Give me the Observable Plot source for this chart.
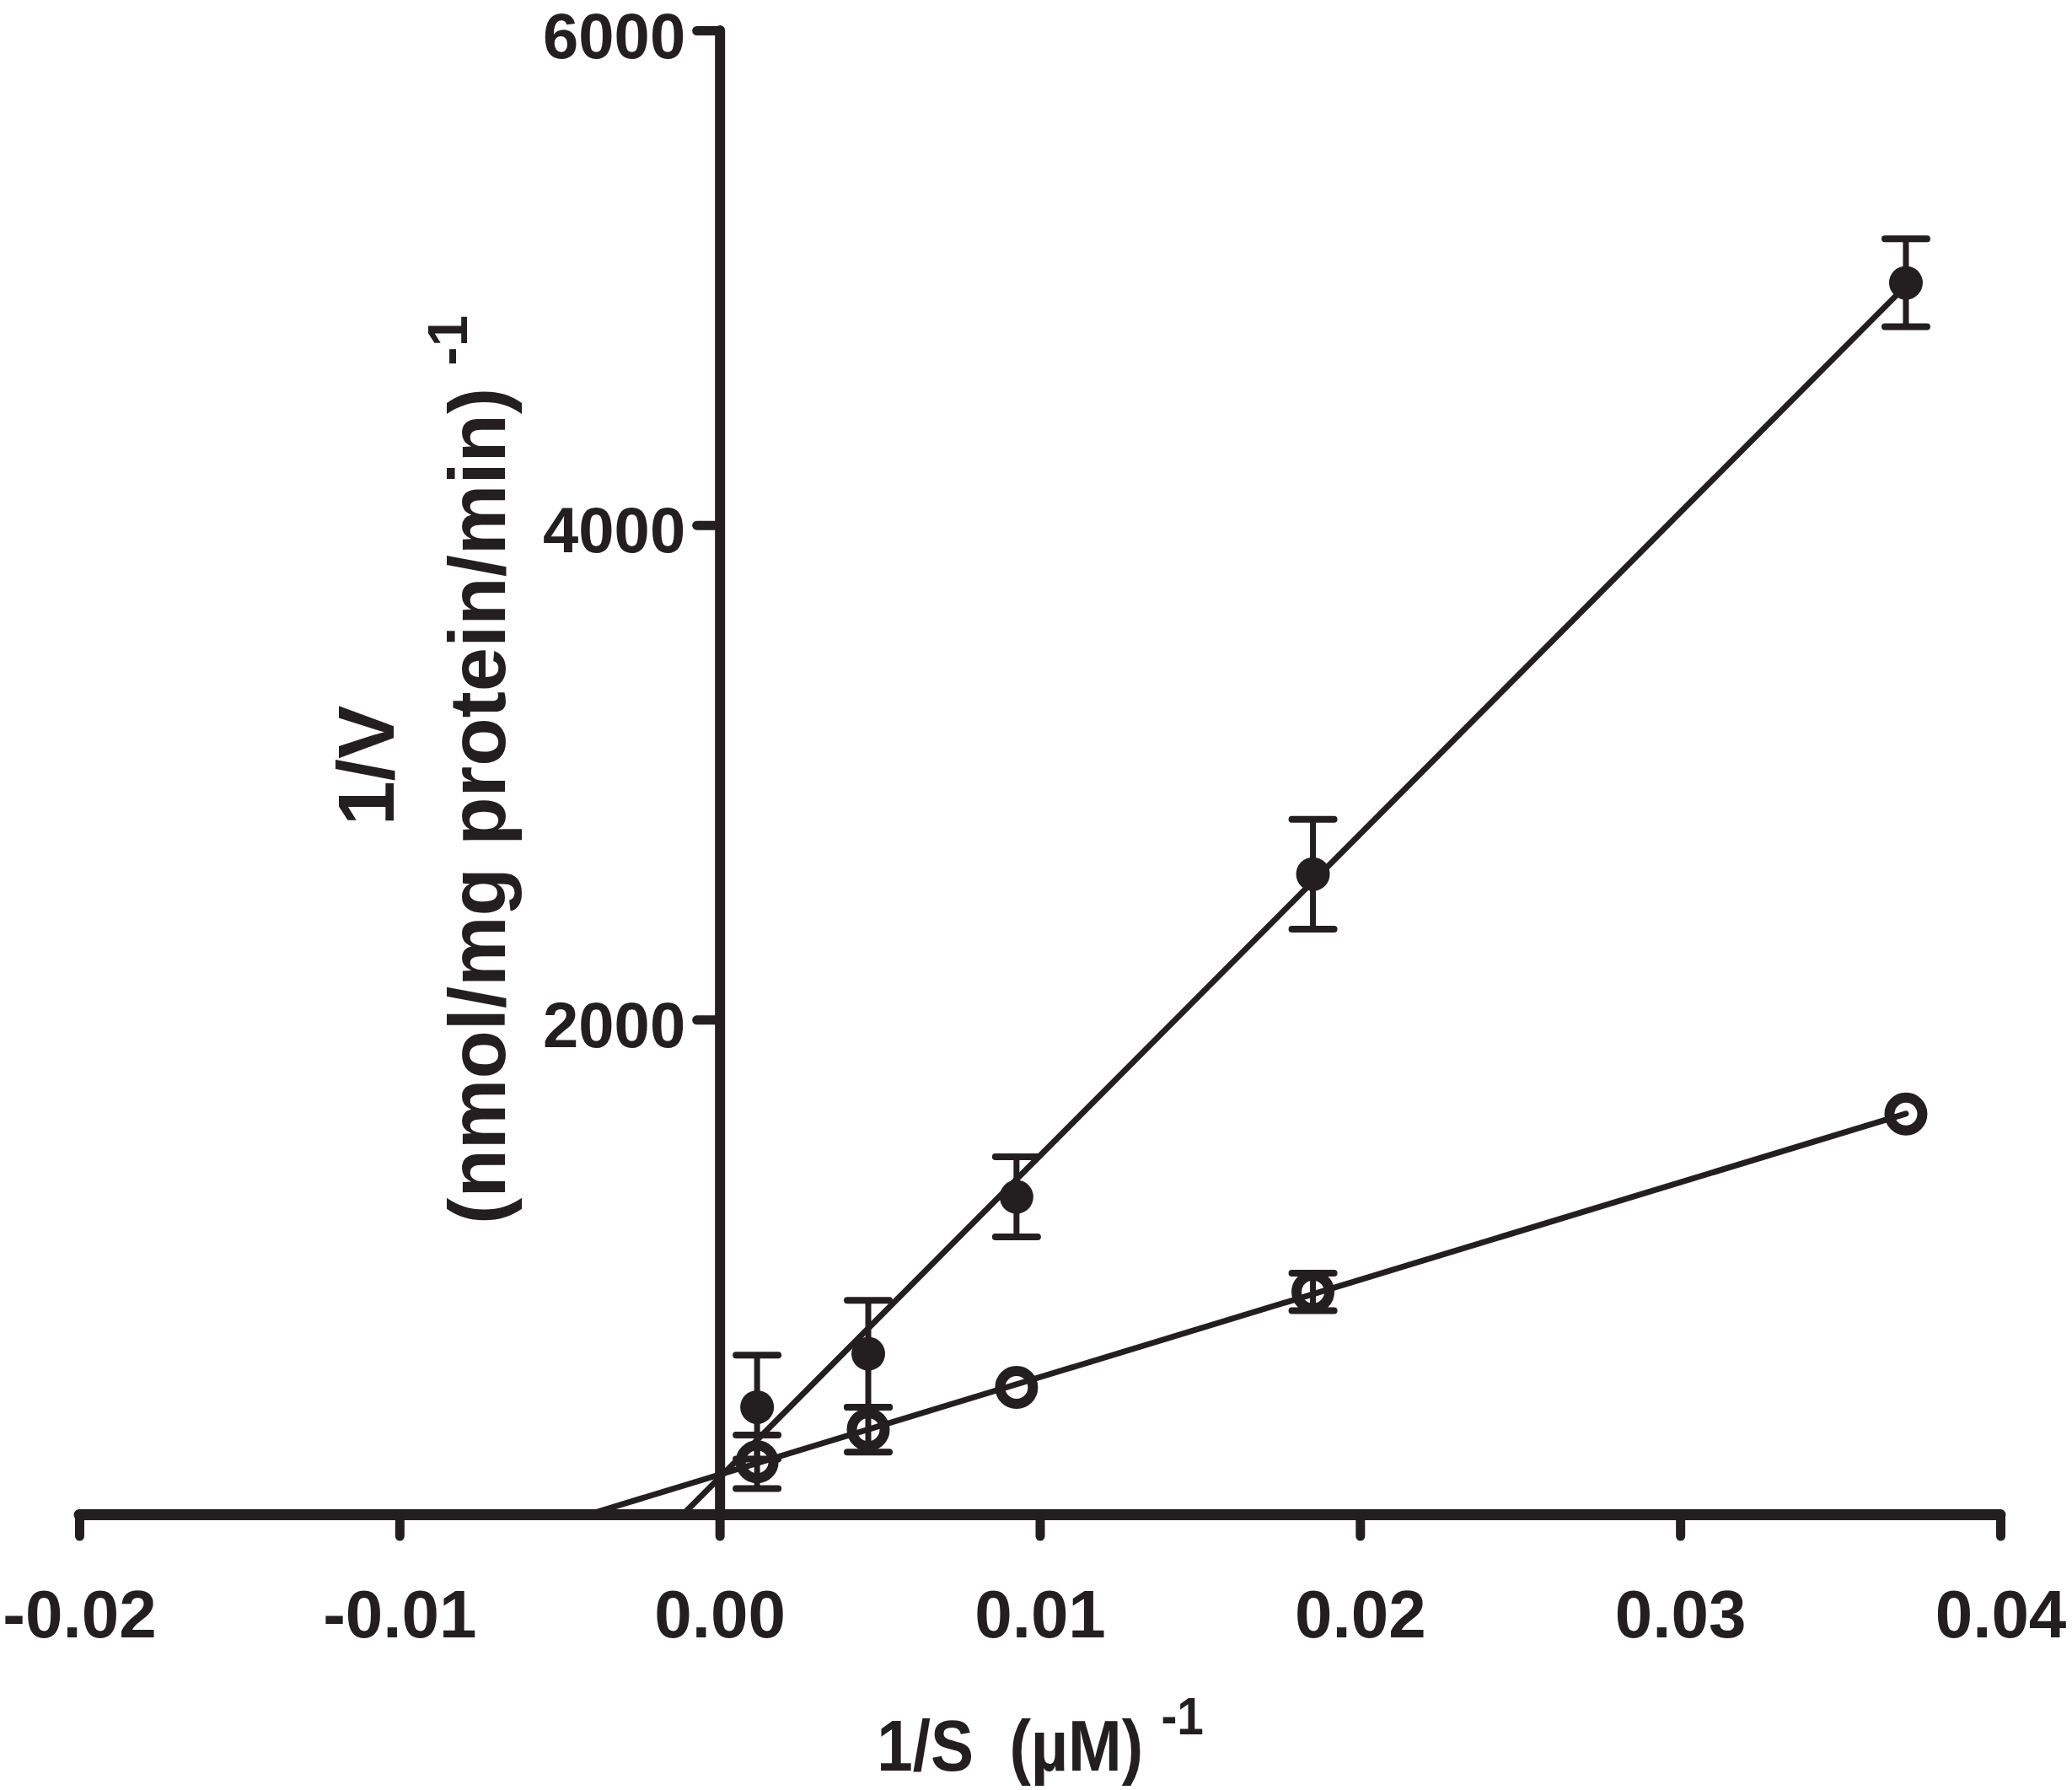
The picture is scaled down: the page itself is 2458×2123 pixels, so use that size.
<!DOCTYPE html>
<html><head><meta charset="utf-8">
<script src="https://cdn.jsdelivr.net/npm/d3@7"></script>
<script src="https://cdn.jsdelivr.net/npm/@observablehq/plot@0.6"></script>
<style>html,body{margin:0;padding:0;background:#fff;} svg{display:block}</style>
</head><body><div id="chart"></div>
<script>
// ---- data ----
const invS = [1/864, 1/216, 1/108, 1/54, 1/27];          // 1/S (µM)^-1
const filledV = [435, 651, 1285, 2590, 4981];            // 1/V, filled circles
const filledSEM = [210, 216, 162, 222, 178];
const openV = [214, 344, 515, 901, 1620];                // 1/V, open circles
const openSEM = [108, 91, null, 76, null];
const xTicks = [-0.02, -0.01, 0, 0.01, 0.02, 0.03, 0.04];
const yTicks = [2000, 4000, 6000];
const xDomain = [-0.02, 0.04];
const yDomain = [0, 6000];
const xTitle = "1/S  (µM)";
const yTitle1 = "1/V";
const yTitle2 = "(nmol/mg protein/min)";
const superscript = "-1";

const ink = "#231f20";
const W = 2458, H = 2123, ML = 94, MR = 85, MT = 36, MB = 327;
const font = "'Liberation Sans', Arial, Helvetica, sans-serif";

const filled = invS.map((x, i) => ({x, y: filledV[i], sem: filledSEM[i]}));
const open = invS.map((x, i) => ({x, y: openV[i], sem: openSEM[i]}));

function fitLine(rows) {
  const mx = d3.mean(rows, d => d.x), my = d3.mean(rows, d => d.y);
  let sxy = 0, sxx = 0;
  for (const d of rows) { sxy += (d.x - mx) * (d.y - my); sxx += (d.x - mx) ** 2; }
  const m = sxy / sxx, b = my - m * mx;
  const xEnd = d3.max(rows, d => d.x);
  return [{x: -b / m, y: 0}, {x: xEnd, y: m * xEnd + b}];
}

const xPerPx = (xDomain[1] - xDomain[0]) / (W - ML - MR);
const yTickLen = 27 * xPerPx;

const capSymbol = {
  draw(ctx, size) { const w = Math.sqrt(size / Math.PI); ctx.moveTo(-w, 0); ctx.lineTo(w, 0); }
};

const bars = [...filled, ...open].filter(d => d.sem != null);

const chart = Plot.plot({
  width: W, height: H,
  marginLeft: ML, marginRight: MR, marginTop: MT, marginBottom: MB,
  style: {fontFamily: font, background: "white", color: ink},
  x: {domain: xDomain},
  y: {domain: yDomain, axis: null},
  marks: [
    // regression lines
    Plot.line(fitLine(filled), {x: "x", y: "y", stroke: ink, strokeWidth: 7}),
    Plot.line(fitLine(open), {x: "x", y: "y", stroke: ink, strokeWidth: 7}),
    // axes lines
    Plot.ruleY([0], {x1: xDomain[0], x2: xDomain[1], stroke: ink, strokeWidth: 13, strokeLinecap: "round"}),
    Plot.ruleX([0], {y1: yDomain[0], y2: yDomain[1], stroke: ink, strokeWidth: 12, strokeLinecap: "round"}),
    // y ticks & labels at x = 0
    Plot.ruleY(yTicks, {y: d => d, x1: -yTickLen, x2: 0, stroke: ink, strokeWidth: 11, strokeLinecap: "round"}),
    Plot.text(yTicks, {y: d => d, x: 0, text: d => String(d), textAnchor: "end", dx: -41, dy: 8,
      fontSize: 76, fontWeight: "bold", fill: ink}),
    // x axis ticks & labels
    Plot.axisX(xTicks, {tickSize: 26, strokeWidth: 11, strokeLinecap: "round", tickPadding: 63,
      fontSize: 80, fontWeight: "bold", tickFormat: d => d.toFixed(2), label: null, color: ink}),
    // error bars
    Plot.ruleX(bars, {x: "x", y1: d => d.y - d.sem, y2: d => d.y + d.sem, stroke: ink, strokeWidth: 7}),
    Plot.dot(bars, {x: "x", y: d => d.y + d.sem, symbol: capSymbol, r: 25, fill: "none", stroke: ink, strokeWidth: 8, strokeLinecap: "round"}),
    Plot.dot(bars, {x: "x", y: d => d.y - d.sem, symbol: capSymbol, r: 25, fill: "none", stroke: ink, strokeWidth: 8, strokeLinecap: "round"}),
    // symbols
    Plot.dot(filled, {x: "x", y: "y", r: 20, fill: ink, stroke: "none"}),
    Plot.dot(open, {x: "x", y: "y", r: 19.5, fill: "none", stroke: ink, strokeWidth: 12})
  ]
});

document.getElementById("chart").appendChild(chart);

// axis titles with superscripts
const svg = d3.select(chart);
const g = svg.append("g").attr("fill", ink).attr("font-family", font).attr("font-weight", "bold");
// y title line 1
g.append("text").attr("transform", "translate(467,908) rotate(-90)").attr("text-anchor", "middle")
  .attr("font-size", 95).text(yTitle1);
// y title line 2 + superscript
const t2 = g.append("text").attr("transform", "translate(599,913) rotate(-90)").attr("text-anchor", "middle")
  .attr("font-size", 94);
t2.append("tspan").text(yTitle2 + " ");
t2.append("tspan").attr("font-size", 67).attr("dy", -45).text(superscript);
// x title + superscript (slightly condensed like the reference)
const tx = g.append("text").attr("transform", "translate(1234,2100) scale(0.9,1)").attr("text-anchor", "middle")
  .attr("font-size", 85);
tx.append("tspan").text(xTitle + " ");
tx.append("tspan").attr("font-size", 63).attr("dy", -43).text(superscript);
</script>
</body></html>
